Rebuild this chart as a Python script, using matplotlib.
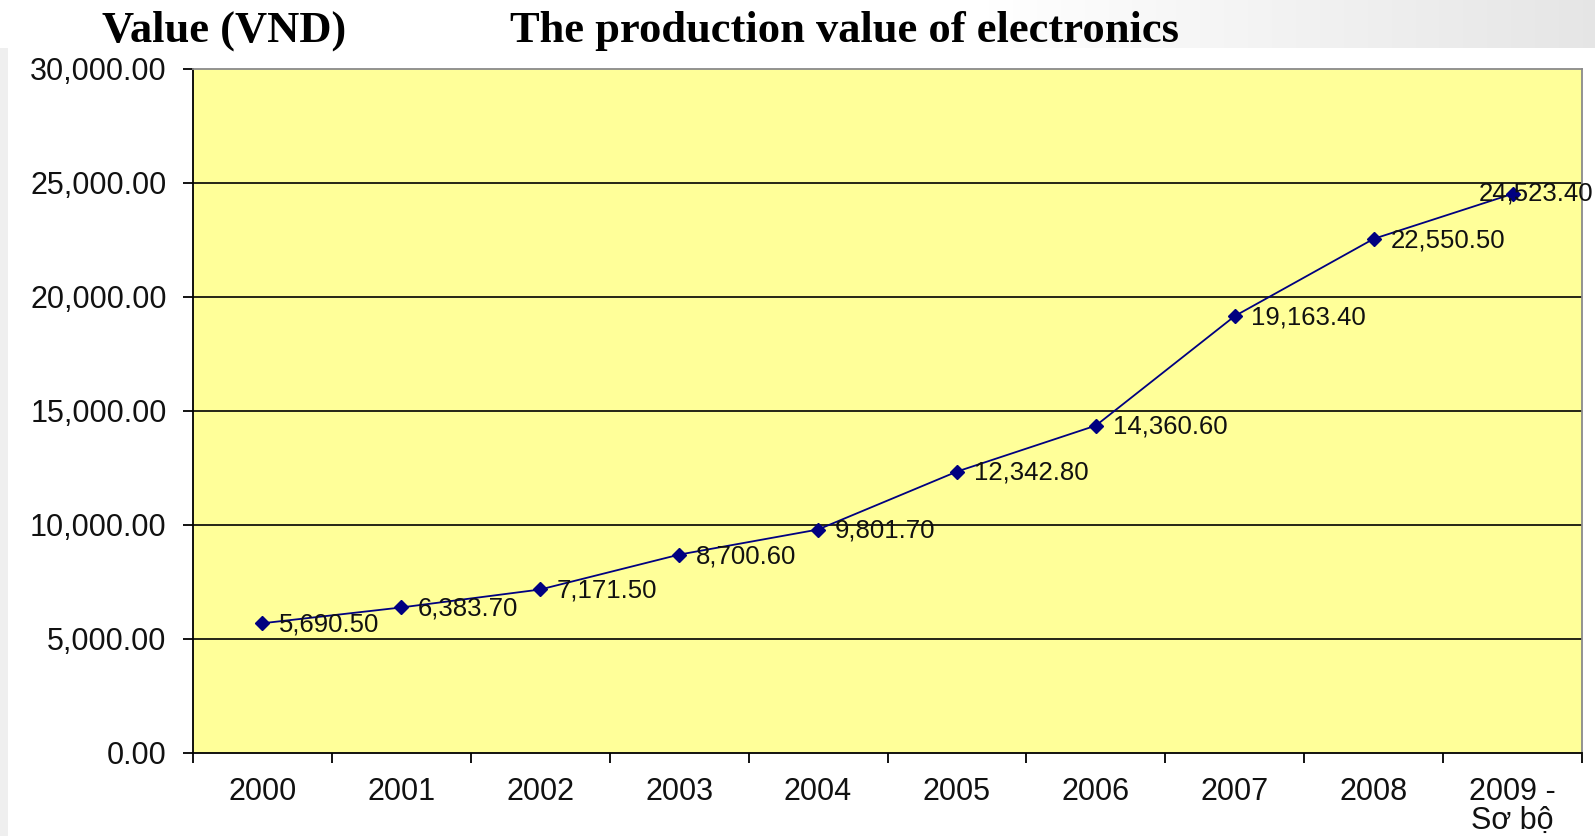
import numpy as np
import matplotlib
matplotlib.use("Agg")
import matplotlib.pyplot as plt
from matplotlib.patches import Rectangle

# ---- data ----
categories = ["2000", "2001", "2002", "2003", "2004", "2005", "2006", "2007", "2008", "2009 -\nSơ bộ"]
values = [5690.50, 6383.70, 7171.50, 8700.60, 9801.70, 12342.80, 14360.60, 19163.40, 22550.50, 24523.40]
y_ticks = [0, 5000, 10000, 15000, 20000, 25000, 30000]
title_left = "Value (VND)"
title_main = "The production value of electronics"

W, H = 1595, 836
fig = plt.figure(figsize=(W / 100, H / 100), dpi=100)
fig.patch.set_facecolor("white")

# subtle background: grey strip on the left, grey gradient top-right
bg = fig.add_axes([0, 0, 1, 1], zorder=-10)
bg.set_axis_off()
xs = np.linspace(0, 1, 400)
g = np.clip((xs - 0.62) / 0.38, 0, 1)
img = np.zeros((1, 400, 3))
for c in range(3):
    img[0, :, c] = 1.0 - 0.10 * g
bg.imshow(img, extent=[0, 1, 1 - 48 / H, 1], aspect="auto", transform=bg.transAxes, zorder=0)
bg.add_patch(Rectangle((0, 0), 8 / W, 1 - 48 / H, transform=bg.transAxes,
                       facecolor="#efefef", edgecolor="none", zorder=1))
bg.set_xlim(0, 1)
bg.set_ylim(0, 1)

ax = fig.add_axes([193 / W, 1 - 753 / H, (1582 - 193) / W, (753 - 69) / H])
ax.set_facecolor("#FFFF99")

x = np.arange(len(categories))
ax.plot(x, values, color="#000080", linewidth=1.3, marker="D", markersize=7.5,
        markerfacecolor="#000080", markeredgecolor="#000080", zorder=5)

ax.set_xlim(-0.5, len(categories) - 0.5)
ax.set_ylim(0, 30000)

# grid
for yv in y_ticks[1:-1]:
    ax.axhline(yv, color="black", linewidth=1.2, zorder=1)

ax.set_yticks(y_ticks)
ax.set_yticklabels([f"{v:,.2f}" for v in y_ticks])
ax.set_xticks(x)
ax.set_xticklabels(categories)
ax.set_xticks(np.arange(-0.5, len(categories), 1.0), minor=True)
ax.tick_params(axis="x", which="major", length=0, pad=17, labelsize=22)
ax.tick_params(axis="x", which="minor", length=7, width=1.3, direction="out", color="black")
ax.tick_params(axis="y", which="major", length=7, width=1.3, direction="out", pad=12, labelsize=22)
for lab in ax.get_xticklabels() + ax.get_yticklabels():
    lab.set_fontfamily("Liberation Sans")
    lab.set_color("#111111")
ax.get_xticklabels()[-1].set_linespacing(0.95)

for side in ["left", "bottom"]:
    ax.spines[side].set_color("black")
    ax.spines[side].set_linewidth(1.3)
for side in ["top", "right"]:
    ax.spines[side].set_color("#8a8a8a")
    ax.spines[side].set_linewidth(1.3)

# data labels
for i, v in enumerate(values):
    txt = f"{v:,.2f}"
    if i == len(values) - 1:
        ax.annotate(txt, xy=(x[i], v), xytext=(0.999, v),
                    textcoords=("figure fraction", "data"), ha="right", va="center",
                    fontsize=18.5, family="Liberation Sans", color="#111111", zorder=6)
    else:
        ax.annotate(txt, xy=(x[i], v), xytext=(12, -1), textcoords="offset points",
                    ha="left", va="center", fontsize=18.5, family="Liberation Sans",
                    color="#111111", zorder=6)

fig.text(224 / W, 1 - 31 / H, title_left, ha="center", va="center",
         fontsize=32, fontweight="bold", family="Liberation Serif")
fig.text(845 / W, 1 - 31 / H, title_main, ha="center", va="center",
         fontsize=32, fontweight="bold", family="Liberation Serif")

fig.savefig("out.png", dpi=100)
